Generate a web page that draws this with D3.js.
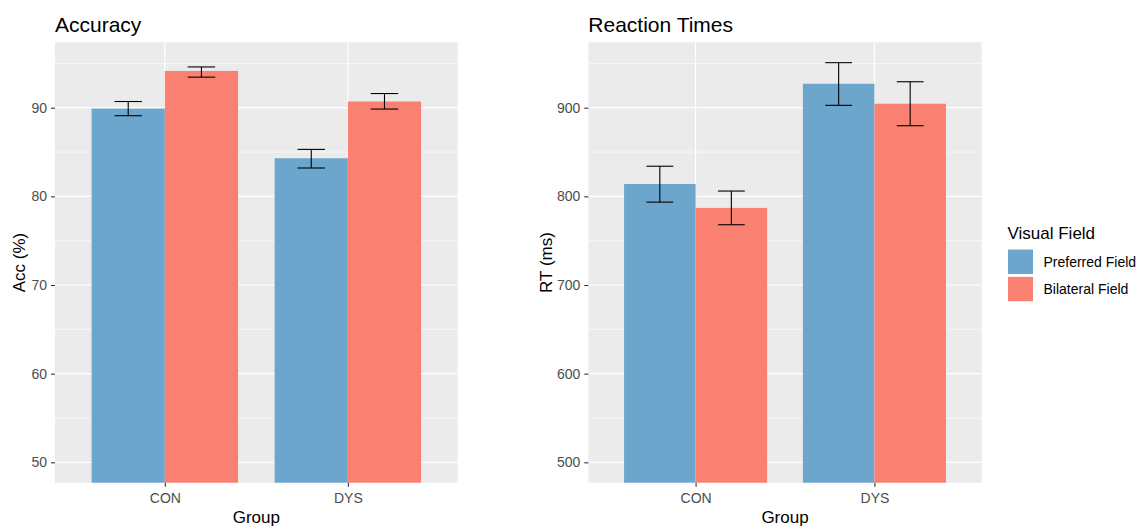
<!DOCTYPE html>
<html>
<head>
<meta charset="utf-8">
<script src="https://cdn.jsdelivr.net/npm/d3@7"></script>
<style>
  body { margin: 0; background: #fff; }
  svg { display: block; font-family: "Liberation Sans", Arial, sans-serif; }
</style>
</head>
<body>
<svg width="1140" height="526"></svg>
<script>
// data
var groups = ["CON", "DYS"];
var fields = ["Preferred Field", "Bilateral Field"];
var colors = ["#6CA6CD", "#FA8072"];

var accMean = [[89.9, 94.15], [84.3, 90.7]];   // [group][field]
var accLo   = [[89.1, 93.45], [83.2, 89.85]];
var accHi   = [[90.7, 94.6],  [85.3, 91.6]];

var rtMean = [[814, 787], [927, 904.5]];
var rtLo   = [[793.5, 768], [902.7, 879.7]];
var rtHi   = [[834, 806],   [950.8, 929.3]];

var accTicks = [50, 60, 70, 80, 90];
var accMinor = [55, 65, 75, 85, 95];
var rtTicks = [500, 600, 700, 800, 900];
var rtMinor = [550, 650, 750, 850, 950];

var svg = d3.select("svg");

function panel(opts) {
  var x0 = opts.left, x1 = opts.right, y0 = 42.3, y1 = 482.7;
  var g = svg.append("g");

  var x = d3.scalePoint()
      .domain(groups)
      .range([x0, x1])
      .padding(0.6 / 1);   // ggplot discrete expansion (0.6 on each side)
  var step = x.step();
  var inner = d3.scaleBand()
      .domain(fields)
      .range([-0.4 * step, 0.4 * step]);

  var y = d3.scaleLinear()
      .domain(opts.domain)
      .range([y1, y0]);

  g.append("rect")
      .attr("x", x0).attr("y", y0)
      .attr("width", x1 - x0).attr("height", y1 - y0)
      .attr("fill", "#EBEBEB");

  // minor grid
  g.selectAll(".minor").data(opts.minor).enter().append("line")
      .attr("x1", x0).attr("x2", x1)
      .attr("y1", function(d) { return y(d); })
      .attr("y2", function(d) { return y(d); })
      .attr("stroke", "#fff").attr("stroke-width", 0.6);
  // major grid
  g.selectAll(".major").data(opts.ticks).enter().append("line")
      .attr("x1", x0).attr("x2", x1)
      .attr("y1", function(d) { return y(d); })
      .attr("y2", function(d) { return y(d); })
      .attr("stroke", "#fff").attr("stroke-width", 1.2);
  g.selectAll(".vgrid").data(groups).enter().append("line")
      .attr("x1", function(d) { return x(d); })
      .attr("x2", function(d) { return x(d); })
      .attr("y1", y0).attr("y2", y1)
      .attr("stroke", "#fff").attr("stroke-width", 1.2);

  // bars
  var rows = [];
  groups.forEach(function(gr, i) {
    fields.forEach(function(f, j) {
      rows.push({ g: gr, f: f, j: j, v: opts.mean[i][j], lo: opts.lo[i][j], hi: opts.hi[i][j] });
    });
  });

  g.selectAll(".bar").data(rows).enter().append("rect")
      .attr("x", function(d) { return x(d.g) + inner(d.f); })
      .attr("width", inner.bandwidth())
      .attr("y", function(d) { return y(d.v); })
      .attr("height", function(d) { return y1 - y(d.v); })
      .attr("fill", function(d) { return colors[d.j]; });

  // error bars
  var cap = 0.15 * step / 2;
  var eb = g.selectAll(".err").data(rows).enter().append("g")
      .attr("transform", function(d) {
        return "translate(" + (x(d.g) + inner(d.f) + inner.bandwidth() / 2) + ",0)";
      })
      .attr("stroke", "#000").attr("stroke-width", 1.1);
  eb.append("line").attr("x1", 0).attr("x2", 0)
      .attr("y1", function(d) { return y(d.lo); })
      .attr("y2", function(d) { return y(d.hi); });
  eb.append("line").attr("x1", -cap).attr("x2", cap)
      .attr("y1", function(d) { return y(d.lo); })
      .attr("y2", function(d) { return y(d.lo); });
  eb.append("line").attr("x1", -cap).attr("x2", cap)
      .attr("y1", function(d) { return y(d.hi); })
      .attr("y2", function(d) { return y(d.hi); });

  // axes
  var ya = g.append("g")
      .attr("transform", "translate(" + x0 + ",0)")
      .call(d3.axisLeft(y).tickValues(opts.ticks).tickSize(4).tickPadding(4));
  ya.select(".domain").remove();
  ya.selectAll(".tick line").attr("stroke", "#333").attr("stroke-width", 1.1);
  ya.selectAll(".tick text").attr("fill", "#4D4D4D")
      .style("font-size", "14px").style("font-family", "Liberation Sans, Arial, sans-serif");

  var xa = g.append("g")
      .attr("transform", "translate(0," + y1 + ")")
      .call(d3.axisBottom(x).tickSize(4).tickPadding(6));
  xa.select(".domain").remove();
  xa.selectAll(".tick line").attr("stroke", "#333").attr("stroke-width", 1.1);
  xa.selectAll(".tick text").attr("fill", "#4D4D4D")
      .style("font-size", "14px").style("font-family", "Liberation Sans, Arial, sans-serif");

  g.append("text")
      .attr("x", x0).attr("y", 31.5)
      .attr("font-size", 21)
      .attr("fill", "#000")
      .text(opts.title);

  g.append("text")
      .attr("x", (x0 + x1) / 2).attr("y", 523)
      .attr("text-anchor", "middle")
      .attr("font-size", 17)
      .text("Group");

  g.append("text")
      .attr("transform", "translate(" + (opts.yTitleX) + "," + ((y0 + y1) / 2) + ") rotate(-90)")
      .attr("text-anchor", "middle")
      .attr("font-size", 17)
      .text(opts.yTitle);
}

panel({
  left: 55, right: 457.7, domain: [47.7, 97.38],
  ticks: accTicks, minor: accMinor,
  mean: accMean, lo: accLo, hi: accHi,
  title: "Accuracy", yTitle: "Acc (%)", yTitleX: 25
});

panel({
  left: 588.3, right: 981.7, domain: [477, 973.8],
  ticks: rtTicks, minor: rtMinor,
  mean: rtMean, lo: rtLo, hi: rtHi,
  title: "Reaction Times", yTitle: "RT (ms)", yTitleX: 551.5
});

// legend
var leg = svg.append("g").attr("transform", "translate(1007.5,0)");
leg.append("text")
    .attr("x", 0).attr("y", 238.5)
    .attr("font-size", 17)
    .text("Visual Field");
var items = leg.selectAll(".item").data(fields).enter().append("g")
    .attr("transform", function(d, i) { return "translate(0," + (249 + i * 27.3) + ")"; });
items.append("rect")
    .attr("width", 26).attr("height", 25.5)
    .attr("fill", function(d, i) { return colors[i]; })
    .attr("stroke", "#fff").attr("stroke-width", 1);
items.append("text")
    .attr("x", 36).attr("y", 17.5)
    .attr("font-size", 14)
    .text(function(d) { return d; });
</script>
</body>
</html>
